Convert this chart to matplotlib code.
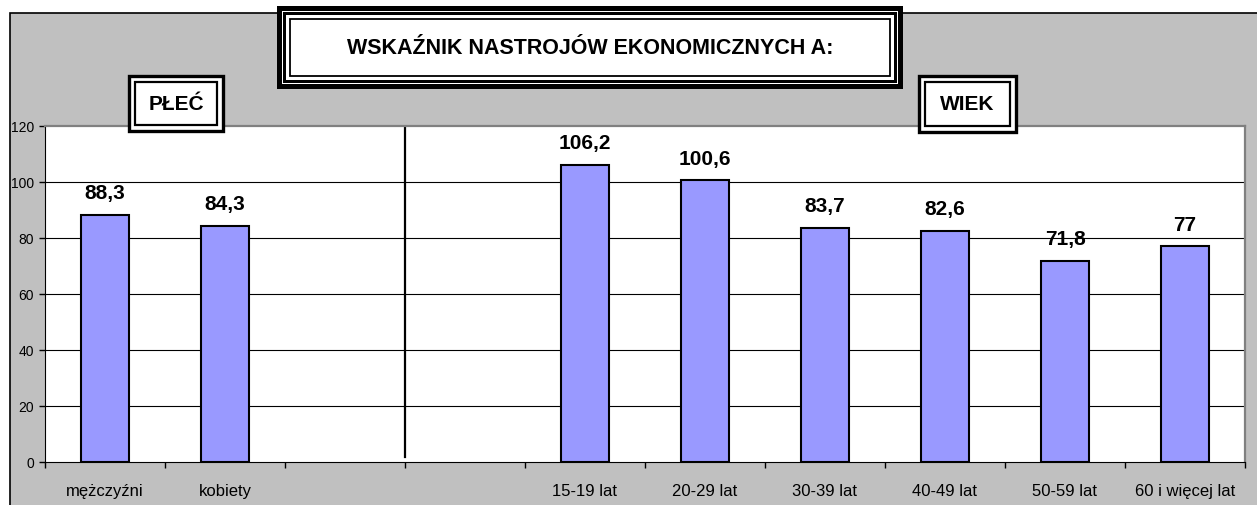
import matplotlib.pyplot as plt
from matplotlib.patches import Rectangle

plt.rcParams["font.family"] = ["Liberation Sans", "DejaVu Sans"]

# chart data (empty slots keep the gap between the two groups)
categories = ["mężczyźni", "kobiety", "", "", "15-19 lat", "20-29 lat",
              "30-39 lat", "40-49 lat", "50-59 lat", "60 i więcej lat"]
values = [88.3, 84.3, None, None, 106.2, 100.6, 83.7, 82.6, 71.8, 77.0]
y_ticks = [0, 20, 40, 60, 80, 100, 120]
title = "WSKAŹNIK NASTROJÓW EKONOMICZNYCH A:"
group_labels = ["PŁEĆ", "WIEK"]

W, H = 1257, 506
BAR_COLOR = "#9999FF"
GRAY = "#C0C0C0"


def px_rect(fig, x0, y0, x1, y1, **kw):
    # rectangle given in image pixels (y from top)
    r = Rectangle((x0 / W, 1 - y1 / H), (x1 - x0) / W, (y1 - y0) / H,
                  transform=fig.transFigure, **kw)
    fig.patches.append(r)
    return r


def framed_label(fig, box, text, size, fancy=False):
    x0, y0, x1, y1 = box
    if fancy:
        px_rect(fig, x0, y0, x1, y1, facecolor="black", edgecolor="none", zorder=5)
        px_rect(fig, x0 + 5, y0 + 5, x1 - 5, y1 - 5, facecolor="white", edgecolor="none", zorder=6)
        px_rect(fig, x0 + 6, y0 + 6, x1 - 6, y1 - 6, facecolor="black", edgecolor="none", zorder=7)
        px_rect(fig, x0 + 9, y0 + 9, x1 - 9, y1 - 9, facecolor="white", edgecolor="none", zorder=8)
        px_rect(fig, x0 + 13, y0 + 13, x1 - 13, y1 - 13, facecolor="white",
                edgecolor="black", linewidth=1.3, zorder=9)
    else:
        px_rect(fig, x0, y0, x1, y1, facecolor="white", edgecolor="black",
                linewidth=2.4, zorder=5)
        px_rect(fig, x0 + 6, y0 + 6, x1 - 6, y1 - 6, facecolor="white",
                edgecolor="black", linewidth=1.6, zorder=6)
    fig.text((x0 + x1) / 2 / W, 1 - (y0 + y1) / 2 / H, text, ha="center", va="center",
             fontsize=size, fontweight="bold", zorder=10)


fig = plt.figure(figsize=(W / 100, H / 100), dpi=100, facecolor="white")

# grey chart area with a frame on the left and the top
px_rect(fig, 10, 14, W + 5, H + 5, facecolor=GRAY, edgecolor="black", linewidth=1.2, zorder=-1)

ax = fig.add_axes([45 / W, (H - 463) / H, 1200 / W, 336 / H])
ax.set_facecolor("white")

x = [i + 0.5 for i in range(len(categories))]
for xi, v in zip(x, values):
    if v is None:
        continue
    ax.bar(xi, v, width=0.4, color=BAR_COLOR, edgecolor="black", linewidth=1.5, zorder=3)
    ax.annotate(f"{v:g}".replace(".", ","), (xi, v), xytext=(0, 16),
                textcoords="offset points", ha="center", va="center",
                fontsize=15, fontweight="bold", zorder=4)

ax.set_xlim(0, len(categories))
ax.set_ylim(0, 120)
ax.set_yticks(y_ticks)
ax.set_yticklabels([str(t) for t in y_ticks], fontsize=10)
ax.set_xticks(x)
ax.set_xticklabels(categories, fontsize=12)
ax.set_xticks(range(len(categories) + 1), minor=True)
ax.tick_params(axis="x", which="major", length=0, pad=15)
ax.tick_params(axis="x", which="minor", direction="out", length=4, width=1)
ax.tick_params(axis="y", direction="out", length=4, width=1, pad=4)

for t in y_ticks[1:-1]:
    ax.axhline(t, color="black", linewidth=0.8, zorder=1)

# separator between the two groups
ax.plot([3, 3], [1.8, 120], color="black", linewidth=1.6, zorder=2)

ax.spines["left"].set_color("black")
ax.spines["bottom"].set_color("black")
ax.spines["top"].set_color("#808080")
ax.spines["right"].set_color("#808080")
ax.spines["top"].set_linewidth(1.6)
ax.spines["right"].set_linewidth(1.6)

framed_label(fig, (277, 7, 903, 90), title, 15.5, fancy=True)
framed_label(fig, (129, 77, 223, 132), group_labels[0], 15)
framed_label(fig, (919, 77, 1016, 133), group_labels[1], 15)

fig.savefig("out.png", dpi=100, facecolor=fig.get_facecolor())
